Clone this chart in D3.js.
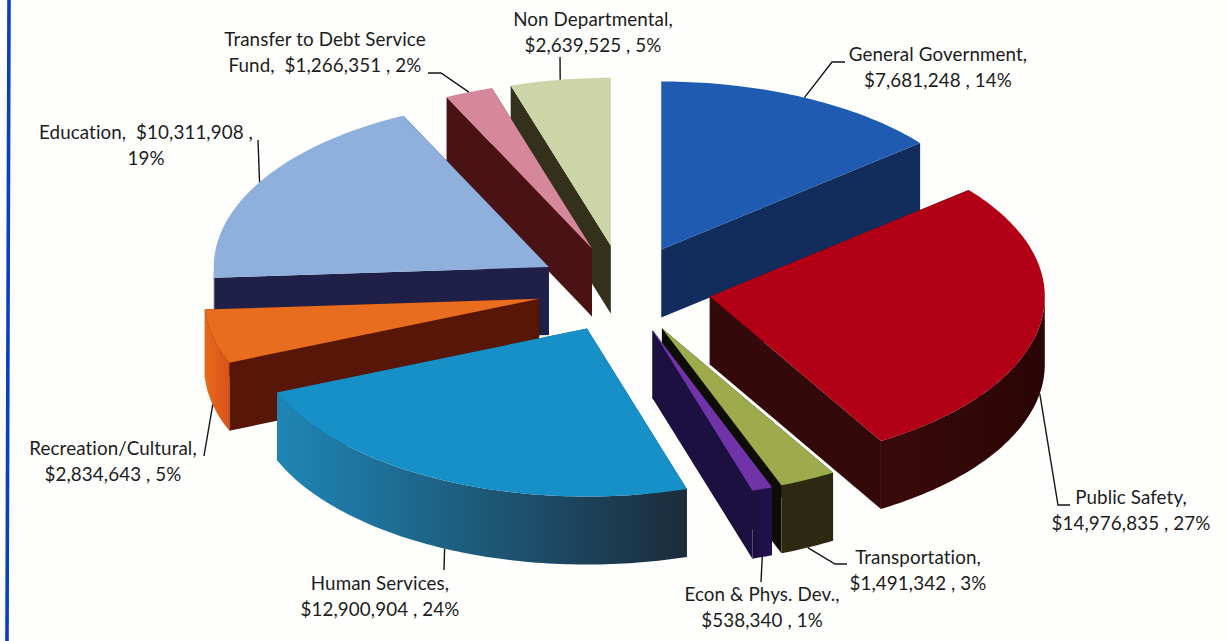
<!DOCTYPE html>
<html>
<head>
<meta charset="utf-8">
<script src="https://cdn.jsdelivr.net/npm/d3@7"></script>
<style>
  html, body { margin: 0; padding: 0; background: #fefefd; }
  svg { display: block; }
  text { font-family: "Lato", "Open Sans", sans-serif; font-size: 18.8px; letter-spacing: 0.1px; fill: #1c1c1c; white-space: pre; }
</style>
</head>
<body>
<svg id="chart" width="1228" height="641"></svg>
<script>
// Budget by function, clockwise from twelve o'clock
const categories = ["General Government", "Public Safety", "Transportation", "Econ & Phys. Dev.",
  "Human Services", "Recreation/Cultural", "Education", "Transfer to Debt Service Fund", "Non Departmental"];
const amounts = [7681248, 14976835, 1491342, 538340, 12900904, 2834643, 10311908, 1266351, 2639525];
const percents = [14, 27, 3, 1, 24, 5, 19, 2, 5];

const labelLines = [
  ["General Government,", "$7,681,248 , 14%"],
  ["Public Safety,", "$14,976,835 , 27%"],
  ["Transportation,", "$1,491,342 , 3%"],
  ["Econ & Phys. Dev.,", "$538,340 , 1%"],
  ["Human Services,", "$12,900,904 , 24%"],
  ["Recreation/Cultural,", "$2,834,643 , 5%"],
  ["Education,  $10,311,908 ,", "19%"],
  ["Transfer to Debt Service", "Fund,  $1,266,351 , 2%"],
  ["Non Departmental,", "$2,639,525 , 5%"]
];

const topColors  = ["#1f5bb0", "#b20016", "#9dab4c", "#7034a8", "#1690c6", "#e86d1e", "#8fb0dc", "#d5889c", "#cdd5a8"];
const wallColors = ["#122c5c", "#340909", "#0d0d05", "#1b1040", "#1d4a66", "#571608", "#1f1f47", "#4a1212", "#33301c"];
const rimColors  = [["#122c5c", "#122c5c"], ["#3a0a0a", "#2a0505"], ["#2d2812", "#2d2812"], ["#1b1040", "#241050"],
  ["#1f86b6", "#1b2c3b"], ["#e8691c", "#d9531a"], ["#1f1f47", "#1f1f47"], ["#4a1212", "#4a1212"], ["#33301c", "#33301c"]];

// Pie geometry
const cx = 624, cy = 289, rx = 335, ry = 168, depth = 68, explode = 0.26;

// Label placement: text centre, first baseline and the leader's elbow points
const labelPlace = [
  { x: 938,  y: 61,  elbow: [[832, 62], [845, 62]] },
  { x: 1131, y: 504, elbow: [[1058, 505], [1070, 505]] },
  { x: 918,  y: 564, elbow: [[835, 564], [847, 564]] },
  { x: 762,  y: 601, elbow: [[761, 582]] },
  { x: 380,  y: 590, elbow: [[444, 570]] },
  { x: 113,  y: 455, elbow: [[204, 456]] },
  { x: 146,  y: 139, elbow: [[258, 140]] },
  { x: 325,  y: 46,  elbow: [[441, 73], [428, 73]] },
  { x: 593,  y: 26,  elbow: [[560, 57]] }
];

const svg = d3.select("#chart");
const defs = svg.append("defs");
const line = d3.line();
const lineGap = 26;

const slices = d3.pie().sort(null).value(d => d)(amounts).map((s, i) => {
  const mid = (s.startAngle + s.endAngle) / 2;
  const ax = cx + explode * rx * Math.sin(mid);
  const ay = cy - explode * ry * Math.cos(mid);
  const rim = a => [ax + rx * Math.sin(a), ay - ry * Math.cos(a)];
  return { i, mid, ax, ay, rim, start: s.startAngle, end: s.endAngle };
});

// Sample the ellipse between two angles, roughly every degree
const arcPoints = (s, a0, a1) => {
  const n = Math.max(2, Math.ceil((a1 - a0) / (Math.PI / 180)));
  return d3.range(n + 1).map(k => s.rim(a0 + (a1 - a0) * k / n));
};
const drop = p => [p[0], p[1] + depth];

// Back slices are painted first so nearer ones cover them
const order = slices.slice().sort((a, b) => a.ay - b.ay);

const pie = svg.append("g").attr("class", "pie");
order.forEach(s => {
  const g = pie.append("g").attr("class", "slice").attr("aria-label", categories[s.i] + " " + percents[s.i] + "%");
  const apex = [s.ax, s.ay];

  [s.start, s.end].forEach(a => {
    const p = s.rim(a);
    g.append("path")
      .attr("d", line([apex, p, drop(p), drop(apex)]) + "Z")
      .attr("fill", wallColors[s.i]);
  });

  // Outer skirt, only on the front half of the ellipse
  const f0 = Math.max(s.start, Math.PI / 2), f1 = Math.min(s.end, 3 * Math.PI / 2);
  if (f1 > f0) {
    const pts = arcPoints(s, f0, f1);
    const xs = d3.extent(pts, p => p[0]);
    const gid = "rim" + s.i;
    const grad = defs.append("linearGradient").attr("id", gid)
      .attr("gradientUnits", "userSpaceOnUse")
      .attr("x1", xs[0]).attr("x2", xs[1]).attr("y1", 0).attr("y2", 0);
    grad.append("stop").attr("offset", 0).attr("stop-color", rimColors[s.i][0]);
    grad.append("stop").attr("offset", 1).attr("stop-color", rimColors[s.i][1]);
    g.append("path")
      .attr("d", line(pts.concat(pts.slice().reverse().map(drop))) + "Z")
      .attr("fill", `url(#${gid})`);
  }

  g.append("path")
    .attr("d", line([apex].concat(arcPoints(s, s.start, s.end))) + "Z")
    .attr("fill", topColors[s.i]);
});

// Leaders run from the slice's rim at its mid-angle to the label
const labels = svg.append("g").attr("class", "labels");
slices.forEach(s => {
  const place = labelPlace[s.i];
  const c = Math.cos(s.mid);
  const anchor = s.rim(s.mid);
  const from = c < 0 ? drop(anchor) : anchor;
  labels.append("path")
    .attr("d", line([from].concat(place.elbow)))
    .attr("fill", "none").attr("stroke", "#151515").attr("stroke-width", 1.4);
  labelLines[s.i].forEach((t, k) => {
    labels.append("text")
      .attr("x", place.x).attr("y", place.y + k * lineGap)
      .attr("text-anchor", "middle").text(t);
  });
});

// Blue page rule down the left side
svg.append("line")
  .attr("x1", 9).attr("y1", 0).attr("x2", 7).attr("y2", 641)
  .attr("stroke", "#0a3fc0").attr("stroke-width", 3.6);
</script>
</body>
</html>
